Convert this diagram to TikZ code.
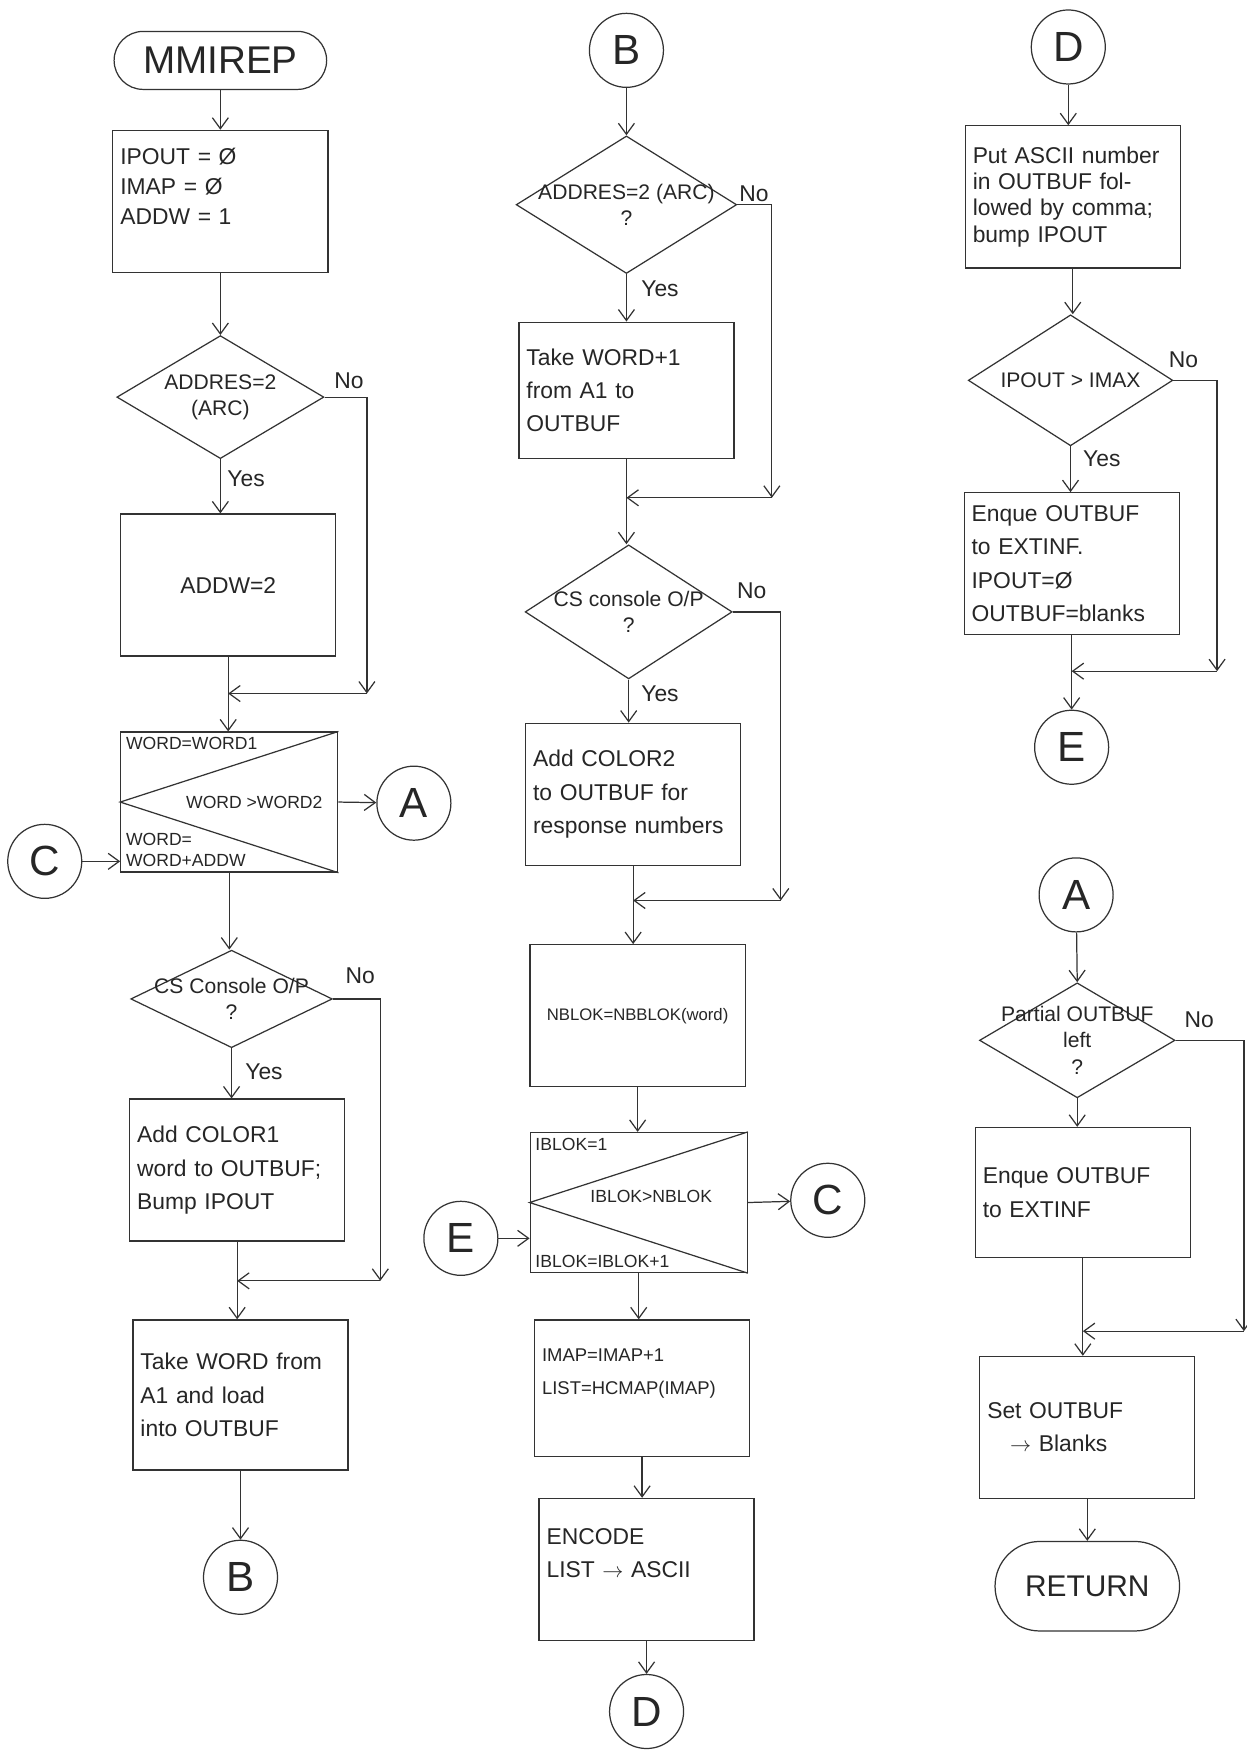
\documentclass[tikz,border=0pt]{standalone}
\usepackage{fontspec}
\setmainfont{Liberation Sans}
\usetikzlibrary{arrows.meta,shapes.geometric,shapes.misc,calc}

\begin{document}
\begin{tikzpicture}[
  x=0.02237cm, y=-0.02237cm,
  line width=0.7pt,
  every node/.style={text=black!85},
  procbox/.style={draw=black!80, text width=4.0cm, inner xsep=0.15cm,
                  minimum height=2.84cm, align=left,
                  font=\fontsize{13}{19}\selectfont},
  decision/.style={diamond, draw=black!80, inner sep=0pt},
  qtext/.style={align=center, font=\fontsize{12}{15}\selectfont},
  loopbox/.style={draw=black!80, minimum width=4.34cm, minimum height=2.8cm},
  looptext/.style={align=left, font=\fontsize{10}{12}\selectfont, inner sep=3pt},
  terminal/.style={rounded rectangle, draw=black!80, inner sep=0pt},
  connector/.style={circle, draw=black!80, minimum size=1.48cm, inner sep=0pt,
                    font=\fontsize{24}{24}\selectfont},
  answer/.style={font=\fontsize{13}{13}\selectfont, inner sep=1pt},
  arr/.style={-{Straight Barb[length=2.2mm,width=3.2mm]}, draw=black!80}
]
  \fill[white] (0,0) rectangle (1114,1568);
  \useasboundingbox (0,0) rectangle (1114,1568);

  % Column 1
  \node[terminal, minimum width=4.25cm, minimum height=1.16cm,
        font=\fontsize{22}{22}\selectfont] (start) at (197,54) {MMIREP};
  \node[procbox, font=\fontsize{13}{17}\selectfont] (init) at (197,180)
    {IPOUT = Ø\\IMAP = Ø\\ADDW = 1\\~};
  \node[decision, minimum width=4.14cm, minimum height=2.46cm,
        label={[qtext]center:{ADDRES=2\\(ARC)}}] (dec1) at (197,355) {};
  \node[answer] (no1) at (312,340) {No};
  \node[answer] (yes1) at (220,428) {Yes};
  \node[procbox, align=center] (addw) at (204,523) {ADDW=2};
  \coordinate (n1) at (328,620);
  \coordinate (m1) at (addw.south |- n1);

  \node[loopbox] (loop1) at (205,717) {};
  \draw[draw=black!80] (loop1.north east) -- (loop1.west) -- (loop1.south east);
  \node[looptext, anchor=north west] (w1) at (loop1.north west) {WORD=WORD1};
  \node[looptext] (w2) at ([xshift=0.5cm]loop1.center) {WORD >WORD2};
  \node[looptext, anchor=south west] (w3) at (loop1.south west) {WORD=\\WORD+ADDW};
  \node[connector] (conA1) at (370,718) {A};
  \node[connector] (conC1) at (40,770) {C};

  \node[decision, minimum width=4.03cm, minimum height=1.95cm,
        label={[qtext]center:{CS Console O/P\\?}}] (dec2) at (207,893) {};
  \node[answer] (no2) at (322,872) {No};
  \node[answer] (yes2) at (236,958) {Yes};
  \node[procbox] (color1) at (212,1046) {Add COLOR1\\word to OUTBUF;\\Bump IPOUT};
  \coordinate (n2) at (340,1145);
  \coordinate (m2) at (color1.south |- n2);
  \node[procbox, minimum height=3.0cm] (take1) at (215,1247)
    {Take WORD from\\A1 and load\\into OUTBUF};
  \node[connector] (conB1) at (215,1410) {B};

  \draw[arr] (start.south) -- (init.north);
  \draw[arr] (init.south) -- (dec1.north);
  \draw[arr] (dec1.south) -- (dec1.south |- addw.north);
  \draw[arr] (dec1.east) -| (n1);
  \draw[arr] (n1) -- (m1);
  \draw[draw=black!80] (addw.south) -- (m1);
  \draw[arr] (m1) -- (m1 |- loop1.north);
  \draw[arr] (loop1.east) -- (conA1);
  \draw[arr] (conC1) -- (conC1 -| loop1.west);
  \draw[arr] (loop1.south) -- (loop1.south |- dec2.north);
  \draw[arr] (dec2.south) -- (dec2.south |- color1.north);
  \draw[arr] (dec2.east) -| (n2);
  \draw[arr] (n2) -- (m2);
  \draw[draw=black!80] (color1.south) -- (m2);
  \draw[arr] (m2) -- (m2 |- take1.north);
  \draw[arr] (take1.south) -- (conB1);

  % Column 2
  \node[connector] (conB2) at (560,45) {B};
  \node[decision, minimum width=4.41cm, minimum height=2.75cm,
        label={[qtext]center:{ADDRES=2 (ARC)\\?}}] (dec3) at (560,183) {};
  \node[answer] (no3) at (674,173) {No};
  \node[answer] (yes3) at (590,258) {Yes};
  \node[procbox, minimum height=2.73cm] (take2) at (560,349)
    {Take WORD+1\\from A1 to\\OUTBUF};
  \coordinate (n3) at (690,445);
  \coordinate (m3) at (take2.south |- n3);

  \node[decision, minimum width=4.14cm, minimum height=2.68cm,
        label={[qtext]center:{CS console O/P\\?}}] (dec4) at (562,547) {};
  \node[answer] (no4) at (672,528) {No};
  \node[answer] (yes4) at (590,620) {Yes};
  \node[procbox] (color2) at (566,710) {Add COLOR2\\to OUTBUF for\\response numbers};
  \coordinate (n4) at (698,805);
  \coordinate (m4) at (color2.south |- n4);
  \node[procbox, align=center, font=\fontsize{9.5}{12}\selectfont] (nblok) at (570,908)
    {NBLOK=NBBLOK(word)};

  \node[loopbox] (loop2) at (571,1075) {};
  \draw[draw=black!80] (loop2.north east) -- (loop2.west) -- (loop2.south east);
  \node[looptext, anchor=north west] (i1) at (loop2.north west) {IBLOK=1};
  \node[looptext] (i2) at ([xshift=0.25cm,yshift=0.12cm]loop2.center) {IBLOK>NBLOK};
  \node[looptext, anchor=south west] (i3) at (loop2.south west) {IBLOK=IBLOK+1};
  \node[connector] (conE1) at (412,1107) {E};
  \node[connector] (conC2) at (740,1073) {C};

  \node[procbox, minimum height=2.73cm, font=\fontsize{10.5}{19}\selectfont] (imap) at (574,1241)
    {IMAP=IMAP+1\\LIST=HCMAP(IMAP)\\~};
  \node[procbox] (encode) at (578,1403) {ENCODE\\LIST $\rightarrow$ ASCII\\~};
  \node[connector] (conD1) at (578,1530) {D};

  \draw[arr] (conB2) -- (dec3.north);
  \draw[arr] (dec3.south) -- (dec3.south |- take2.north);
  \draw[arr] (dec3.east) -| (n3);
  \draw[arr] (n3) -- (m3);
  \draw[draw=black!80] (take2.south) -- (m3);
  \draw[arr] (m3) -- (m3 |- dec4.north);
  \draw[arr] (dec4.south) -- (dec4.south |- color2.north);
  \draw[arr] (dec4.east) -| (n4);
  \draw[arr] (n4) -- (m4);
  \draw[draw=black!80] (color2.south) -- (m4);
  \draw[arr] (m4) -- (m4 |- nblok.north);
  \draw[arr] (nblok.south) -- (nblok.south |- loop2.north);
  \draw[arr] (conE1) -- (conE1 -| loop2.west);
  \draw[arr] (loop2.east) -- (conC2);
  \draw[arr] (loop2.south) -- (loop2.south |- imap.north);
  \draw[arr] (imap.south) -- (imap.south |- encode.north);
  \draw[arr] (encode.south) -- (conD1);

  % Column 3
  \node[connector] (conD2) at (955,42) {D};
  \node[procbox, font=\fontsize{13}{15}\selectfont] (putascii) at (959,176)
    {Put ASCII number\\in OUTBUF fol-\\lowed by comma;\\bump IPOUT};
  \node[decision, minimum width=4.09cm, minimum height=2.62cm,
        label={[qtext]center:{IPOUT > IMAX}}] (dec5) at (957,340) {};
  \node[answer] (no5) at (1058,322) {No};
  \node[answer] (yes5) at (985,410) {Yes};
  \node[procbox] (enque1) at (958,504)
    {Enque OUTBUF\\to EXTINF.\\IPOUT=Ø\\OUTBUF=blanks};
  \coordinate (n5) at (1088,600);
  \coordinate (m5) at (enque1.south |- n5);
  \node[connector] (conE2) at (958,668) {E};

  \node[connector] (conA2) at (962,800) {A};
  \node[decision, minimum width=3.91cm, minimum height=2.3cm,
        label={[qtext]center:{Partial OUTBUF\\left\\?}}] (dec6) at (963,930) {};
  \node[answer] (no6) at (1072,912) {No};
  \node[procbox, minimum height=2.6cm] (enque2) at (968,1066) {Enque OUTBUF\\to EXTINF};
  \coordinate (n6) at (1112,1190);
  \coordinate (m6) at (enque2.south |- n6);
  \node[procbox] (setbuf) at (972,1276) {Set OUTBUF\\\quad$\rightarrow$ Blanks};
  \node[terminal, minimum width=3.69cm, minimum height=1.79cm,
        font=\fontsize{17}{17}\selectfont] (return) at (972,1418) {RETURN};

  \draw[arr] (conD2) -- (conD2 |- putascii.north);
  \draw[arr] (putascii.south) -- (putascii.south |- dec5.north);
  \draw[arr] (dec5.south) -- (dec5.south |- enque1.north);
  \draw[arr] (dec5.east) -| (n5);
  \draw[arr] (n5) -- (m5);
  \draw[draw=black!80] (enque1.south) -- (m5);
  \draw[arr] (m5) -- (conE2);
  \draw[arr] (conA2) -- (dec6.north);
  \draw[arr] (dec6.south) -- (dec6.south |- enque2.north);
  \draw[arr] (dec6.east) -| (n6);
  \draw[arr] (n6) -- (m6);
  \draw[draw=black!80] (enque2.south) -- (m6);
  \draw[arr] (m6) -- (m6 |- setbuf.north);
  \draw[arr] (setbuf.south) -- (return.north);
\end{tikzpicture}
\end{document}
